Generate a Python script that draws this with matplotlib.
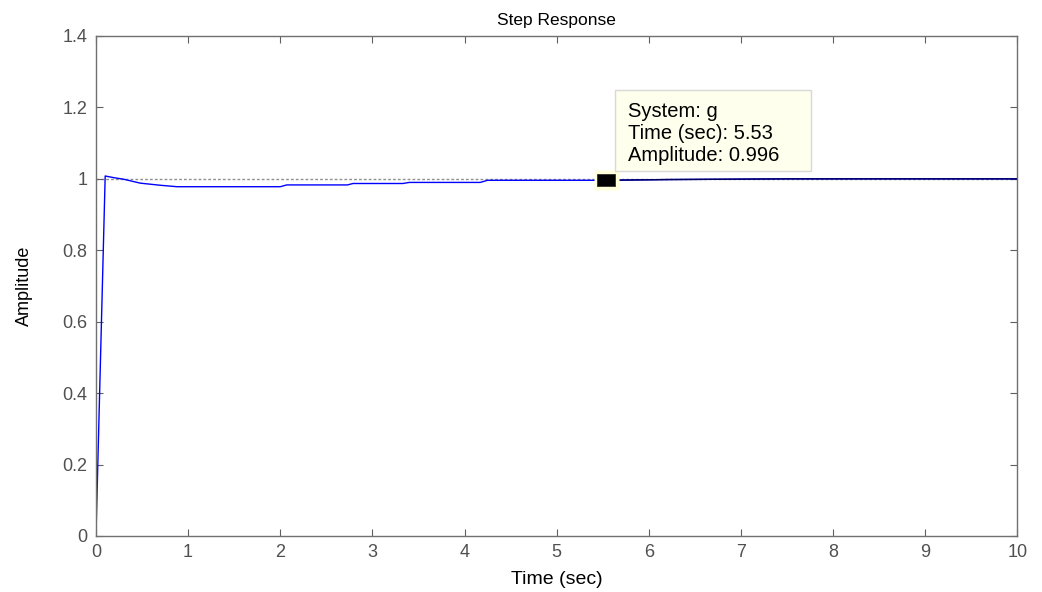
import numpy as np
import matplotlib.pyplot as plt
from matplotlib.patches import Rectangle

plt.rcParams['font.family'] = ['Liberation Sans', 'DejaVu Sans']

# step response (time in sec, amplitude)
t = [0, 0.1, 0.2, 0.3, 0.48, 0.7, 0.88, 2.0, 2.07, 2.73, 2.79, 3.33, 3.4,
     4.17, 4.25, 5.53, 6.2, 7.5, 10]
amp = [0, 1.008, 1.003, 0.999, 0.988, 0.982, 0.978, 0.978, 0.983, 0.983,
       0.987, 0.987, 0.990, 0.990, 0.996, 0.996, 0.998, 1.0, 1.0]
final_value = 1.0

dt_time = 5.53
dt_amp = 0.996
dt_text = "System: g\nTime (sec): 5.53\nAmplitude: 0.996"

xticks = np.arange(0, 11, 1)
yticks = [0, 0.2, 0.4, 0.6, 0.8, 1, 1.2, 1.4]
ytick_labels = ['0', '0.2', '0.4', '0.6', '0.8', '1', '1.2', '1.4']

fig = plt.figure(figsize=(10.42, 5.92), dpi=100)
ax = fig.add_axes([0.0921, 0.0946, 0.8843, 0.8446])

ax.plot([0, 10], [final_value, final_value], color='#909090', lw=1.0,
        ls=(0, (2, 1.5)), zorder=1)
ax.plot(t, amp, color='#0000ff', lw=1.0, zorder=2)
ax.plot(t[-4:], amp[-4:], color='#00005a', lw=1.0, zorder=3)

# data tip marker: black rectangle with pale yellow rim
rim = [(-1.25, -1), (1.25, -1), (1.25, 1), (-1.25, 1), (-1.25, -1)]
core = [(-1.4, -1), (1.4, -1), (1.4, 1), (-1.4, 1), (-1.4, -1)]
ax.plot([dt_time], [dt_amp], marker=rim, ms=18, mfc='#ffffdc', mec='none',
        zorder=5, clip_on=False)
ax.plot([dt_time], [dt_amp], marker=core, ms=12.3, mfc='black',
        mec='#303030', mew=0.6, zorder=6, clip_on=False)

# data tip box
ax.add_patch(Rectangle((5.635, 1.0224), 2.128, 0.2269, fc='#ffffee',
                       ec='#d8d8d8', lw=1, zorder=6))
ax.text(5.77, 1.214, dt_text, fontsize=14.5, va='top', ha='left',
        linespacing=1.17, zorder=7)

ax.set_xlim(0, 10)
ax.set_ylim(0, 1.4)
ax.set_xticks(xticks)
ax.set_yticks(yticks)
ax.set_yticklabels(ytick_labels)
ax.tick_params(direction='in', top=True, right=True, length=5, width=0.8,
               colors='#606060', labelsize=13, labelcolor='#505050', pad=6)
for s in ax.spines.values():
    s.set_color('#707070')
    s.set_linewidth(1.0)

ax.set_title('Step Response', fontsize=12.5, pad=8)
ax.set_xlabel('Time (sec)', fontsize=14, labelpad=7)
ax.set_ylabel('Amplitude', fontsize=13, labelpad=21)

fig.savefig('out.png', dpi=100)
